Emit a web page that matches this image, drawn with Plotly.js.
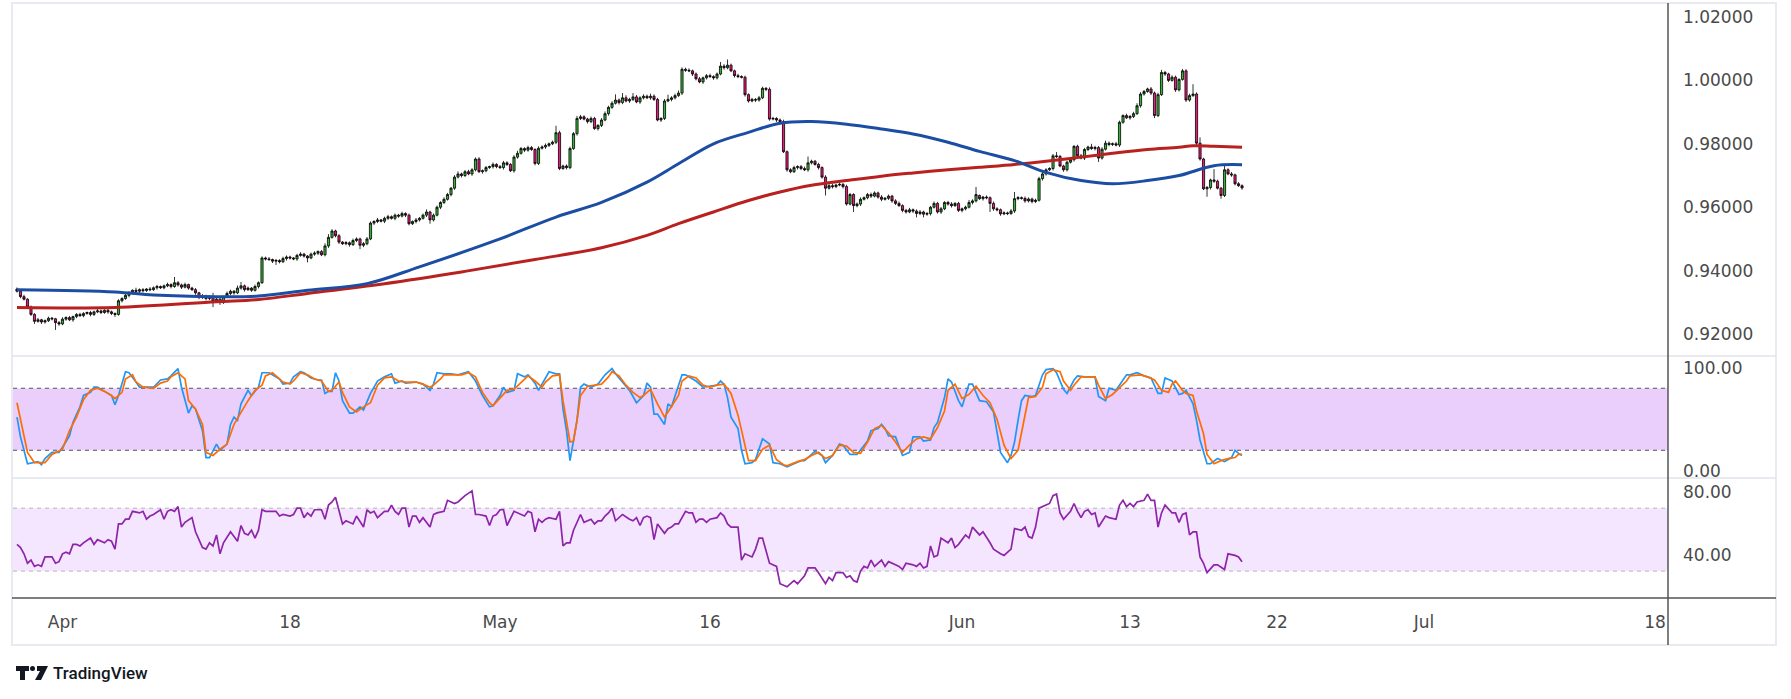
<!DOCTYPE html>
<html>
<head>
<meta charset="utf-8">
<script src="https://cdn.plot.ly/plotly-3.0.1.min.js"></script>
<style>
  html, body { margin: 0; padding: 0; background: #fff; }
  #chart { width: 1791px; height: 699px; }
</style>
</head>
<body>
<div id="chart"></div>
<script>
/* 4H candles with two moving averages, stochastic and RSI panes.
   Prices are kept in pips (price x 10000); x is the bar index. */

const closePips = [
  9335,9318,9310,9285,9262,9240,9245,9238,9242,9250,
  9248,9236,9232,9247,9252,9245,9255,9262,9258,9265,
  9268,9262,9270,9273,9268,9275,9270,9265,9262,9305,
  9312,9322,9330,9338,9335,9340,9337,9342,9340,9346,
  9350,9346,9352,9356,9350,9362,9355,9348,9356,9345,
  9340,9330,9315,9320,9312,9318,9303,9310,9300,9318,
  9328,9335,9330,9345,9352,9340,9345,9338,9350,9362,
  9440,9437,9435,9430,9432,9428,9438,9443,9440,9437,
  9448,9452,9446,9440,9452,9455,9460,9450,9478,9505,
  9525,9510,9490,9485,9488,9482,9495,9500,9480,9485,
  9500,9550,9555,9560,9556,9565,9570,9565,9575,9572,
  9580,9575,9548,9555,9560,9565,9575,9585,9560,9575,
  9600,9615,9625,9640,9660,9695,9705,9700,9712,9705,
  9718,9752,9712,9715,9725,9728,9735,9728,9725,9740,
  9735,9715,9758,9770,9785,9780,9788,9782,9738,9786,
  9790,9795,9800,9805,9835,9722,9730,9725,9785,9832,
  9880,9885,9878,9870,9880,9848,9858,9875,9895,9915,
  9928,9938,9930,9945,9935,9940,9948,9932,9945,9950,
  9945,9950,9940,9875,9880,9935,9940,9945,9952,9960,
  10035,10032,10030,10020,10005,9995,10008,10015,10012,10008,
  10020,10045,10040,10048,10030,10015,10012,10010,9955,9935,
  9940,9938,9945,9975,9972,9878,9880,9875,9870,9775,
  9718,9712,9725,9728,9722,9718,9740,9745,9735,9725,
  9695,9660,9668,9665,9670,9672,9665,9610,9640,9605,
  9610,9625,9630,9640,9635,9645,9632,9625,9628,9635,
  9620,9612,9605,9590,9585,9592,9588,9580,9585,9578,
  9580,9600,9612,9585,9595,9615,9610,9605,9612,9590,
  9595,9600,9615,9620,9640,9627,9632,9630,9612,9595,
  9592,9579,9582,9580,9588,9627,9630,9628,9620,9626,
  9618,9622,9690,9705,9718,9722,9762,9760,9730,9718,
  9742,9750,9792,9762,9755,9782,9790,9785,9788,9755,
  9783,9802,9798,9800,9796,9868,9889,9882,9886,9895,
  9920,9957,9965,9973,9960,9889,9955,10025,10020,10000,
  10010,9970,10003,10030,9938,9952,9957,9802,9752,9658,
  9662,9686,9682,9660,9637,9718,9705,9702,9674,9668,
  9661
];

const openPips = [
  9342,9335,9318,9310,9285,9262,9240,9245,9238,9242,
  9250,9248,9236,9232,9247,9252,9245,9255,9262,9258,
  9265,9268,9262,9270,9273,9268,9275,9270,9265,9262,
  9305,9312,9322,9330,9338,9335,9340,9337,9342,9340,
  9346,9350,9346,9352,9356,9350,9362,9355,9348,9356,
  9345,9340,9330,9315,9320,9312,9318,9303,9310,9300,
  9318,9328,9335,9330,9345,9352,9340,9345,9338,9350,
  9362,9440,9437,9435,9430,9432,9428,9438,9443,9440,
  9437,9448,9452,9446,9440,9452,9455,9460,9450,9478,
  9505,9525,9510,9490,9485,9488,9482,9495,9500,9480,
  9485,9500,9550,9555,9560,9556,9565,9570,9565,9575,
  9572,9580,9575,9548,9555,9560,9565,9575,9585,9560,
  9575,9600,9615,9625,9640,9660,9695,9705,9700,9712,
  9705,9718,9752,9712,9715,9725,9728,9735,9728,9725,
  9740,9735,9715,9758,9770,9785,9780,9788,9782,9738,
  9786,9790,9795,9800,9805,9835,9722,9730,9725,9785,
  9832,9880,9885,9878,9870,9880,9848,9858,9875,9895,
  9915,9928,9938,9930,9945,9935,9940,9948,9932,9945,
  9950,9945,9950,9940,9875,9880,9935,9940,9945,9952,
  9960,10035,10032,10030,10020,10005,9995,10008,10015,10012,
  10008,10020,10045,10040,10048,10030,10015,10012,10010,9955,
  9935,9940,9938,9945,9975,9972,9878,9880,9875,9870,
  9775,9718,9712,9725,9728,9722,9718,9740,9745,9735,
  9725,9695,9660,9668,9665,9670,9672,9665,9610,9640,
  9605,9610,9625,9630,9640,9635,9645,9632,9625,9628,
  9635,9620,9612,9605,9590,9585,9592,9588,9580,9585,
  9578,9580,9600,9612,9585,9595,9615,9610,9605,9612,
  9590,9595,9600,9615,9620,9637,9627,9632,9630,9612,
  9595,9592,9579,9582,9580,9588,9627,9630,9628,9620,
  9626,9618,9622,9690,9705,9718,9722,9762,9760,9730,
  9718,9742,9750,9792,9762,9755,9782,9790,9785,9788,
  9755,9783,9802,9798,9800,9796,9868,9889,9882,9886,
  9895,9920,9957,9965,9973,9960,9889,9955,10025,10020,
  10000,10010,9970,10003,10030,9938,9952,9957,9802,9752,
  9658,9662,9686,9682,9660,9637,9718,9705,9702,9674,
  9668
];

// wick length above / below the body, pips
const upperWick = [
  5,4,6,3,5,4,6,3,4,5, 4,3,5,6,4,5,3,4,5,4, 3,5,4,6,4,3,5,4,3,5,
  4,6,5,3,8,4,5,3,6,4, 5,3,4,6,4,18,5,4,6,3, 4,5,3,6,4,5,12,4,5,3,
  6,5,4,8,12,4,5,3,6,4, 5,4,6,3,5,4,6,5,4,3, 5,6,4,3,5,6,4,5,8,10,
  6,4,5,3,5,4,6,5,4,5, 6,5,4,6,3,5,6,4,5,4, 6,4,5,3,6,4,5,8,4,5,
  5,4,6,5,4,6,8,4,5,6, 5,5,6,4,5,3,6,4,5,6, 5,4,6,8,5,4,6,5,4,6,
  5,6,4,5,22,6,4,5,6,5, 8,6,5,4,6,5,4,6,7,5, 6,18,5,15,8,5,12,6,5,6,
  5,8,6,5,4,6,15,5,6,8, 6,5,6,4,5,6,4,5,6,4, 5,13,6,18,5,4,6,4,5,4,
  5,4,6,5,4,6,5,4,5,6, 4,5,6,4,5,6,20,5,4,5, 4,6,5,6,4,5,4,6,5,4,
  5,6,4,5,6,5,4,6,4,5, 4,5,6,4,5,6,4,5,6,4, 5,4,6,5,6,4,5,6,4,5,
  4,5,8,5,24,3,4,5,4,6, 5,4,5,4,6,21,5,4,6,5, 4,5,6,8,5,4,6,12,5,4,
  5,6,4,5,6,5,4,10,6,5, 6,8,5,4,6,5,4,6,5,6, 8,6,5,4,6,5,6,8,5,4,
  6,5,4,6,5,6,31,5,18,4, 5,4,34,5,4,19,5,6,4,5, 4
];
const lowerWick = [
  4,5,4,6,5,8,4,6,5,4, 5,23,6,4,5,4,6,5,4,5, 4,6,5,4,5,4,6,5,8,4,
  5,4,6,5,4,5,6,4,5,4, 6,4,5,4,6,4,5,6,4,5, 4,6,5,4,6,5,18,4,8,5,
  4,5,6,4,5,6,4,5,4,6, 4,5,4,6,12,5,4,6,5,4, 6,4,5,14,4,5,6,4,5,6,
  4,5,6,4,5,6,4,5,12,6, 5,4,6,5,4,6,5,4,6,5, 4,6,5,4,6,5,4,6,12,5,
  4,6,5,4,6,5,4,6,5,4, 6,5,4,6,5,4,6,5,4,6, 5,4,6,5,4,6,5,4,6,5,
  4,6,5,4,6,5,4,6,5,4, 6,5,4,6,5,4,6,5,4,6, 5,4,6,5,4,6,5,4,6,5,
  4,6,5,4,6,5,4,6,5,4, 6,5,4,6,5,4,6,5,4,6, 5,4,6,5,4,6,5,4,6,5,
  4,6,5,4,6,5,4,6,5,4, 6,5,4,6,5,4,6,5,4,6, 5,23,4,6,5,4,6,5,4,20,
  5,6,4,5,6,4,5,6,4,5, 6,5,4,6,5,4,6,12,5,10, 5,6,4,5,6,4,5,6,4,5,
  6,5,4,6,5,4,6,5,27,6, 5,6,4,5,4,6,5,4,6,5, 6,5,4,6,5,4,6,5,4,6,
  5,4,6,5,4,6,5,4,6,12, 5,4,6,5,4,6,5,4,6,5, 4,6,5,4,6,8,5,4,6,5,
  4,6,5,4,6,5,4,6,5,4, 25,6,5,4,10,5,4,6,5,4, 6
];

// moving averages, [bar, pips]
const maFast = [
  [0,9340],[28,9333],[39,9323],[57,9318],[69,9320],[83,9338],[100,9359],[115,9412],
  [137,9496],[154,9569],[167,9615],[180,9679],[189,9737],[199,9800],[209,9836],[218,9865],
  [227,9870],[237,9862],[247,9847],[256,9831],[266,9805],[275,9776],[285,9747],[294,9710],
  [304,9684],[313,9674],[323,9684],[332,9700],[342,9731],[350,9734]
];
const maSlow = [
  [0,9284],[28,9284],[57,9302],[69,9309],[83,9328],[105,9359],[127,9396],[148,9435],
  [167,9472],[180,9511],[189,9548],[199,9585],[209,9621],[218,9648],[227,9669],[237,9684],
  [247,9698],[256,9708],[266,9718],[275,9726],[285,9735],[294,9745],[304,9758],[313,9770],
  [323,9782],[332,9789],[336,9794],[342,9792],[350,9789]
];

// stochastic %K and %D, [bar, value]
const stochK = [
  [0,52],[1,33],[3,7],[5,8],[6,9],[7,6],[8,12],[10,18],[12,18],[13,23],[15,34],[16,47],[18,62],[19,73],
  [21,76],[22,81],[23,81],[25,77],[27,73],[28,64],[29,73],[31,96],[32,95],[34,86],[35,81],[37,81],[39,81],
  [41,88],[43,89],[44,92],[46,99],[47,81],[49,56],[50,63],[51,60],[53,39],[54,13],[55,13],[57,26],[58,20],
  [60,26],[61,45],[62,52],[63,49],[64,65],[66,78],[67,73],[69,81],[70,95],[72,95],[73,93],[75,89],[76,84],
  [78,85],[79,91],[81,96],[82,95],[84,90],[86,88],[87,88],[88,75],[89,77],[90,77],[91,95],[92,87],[93,68],
  [95,56],[96,56],[98,62],[99,59],[101,75],[103,87],[105,91],[107,94],[108,85],[110,87],[111,85],[114,86],
  [116,84],[118,78],[119,84],[120,95],[122,94],[124,94],[126,93],[128,95],[129,96],[131,87],[133,73],
  [135,62],[136,63],[138,73],[139,81],[140,76],[142,78],[143,94],[145,91],[146,93],[148,85],[149,78],
  [151,90],[152,96],[154,94],[155,94],[156,60],[157,39],[158,10],[159,29],[160,49],[161,81],[162,84],
  [164,81],[166,84],[168,93],[170,99],[171,94],[173,86],[175,78],[177,66],[179,73],[180,85],[181,81],
  [182,55],[183,55],[185,45],[186,65],[187,62],[189,84],[190,93],[191,93],[194,87],[196,81],[198,82],
  [200,83],[201,87],[202,84],[203,71],[204,52],[206,41],[207,20],[208,7],[210,8],[211,11],[213,31],
  [215,26],[216,8],[218,7],[220,4],[222,7],[224,10],[225,10],[227,16],[228,19],[230,15],[231,8],[233,15],
  [235,26],[236,25],[238,16],[240,16],[241,20],[243,29],[244,39],[246,41],[247,45],[248,41],[249,34],
  [251,33],[253,15],[255,18],[256,33],[258,33],[259,29],[261,30],[262,42],[263,47],[265,71],[266,89],
  [267,86],[269,68],[270,62],[272,84],[273,84],[275,68],[277,67],[279,57],[281,18],[282,13],[283,8],
  [284,15],[285,28],[286,49],[287,68],[288,73],[290,72],[291,73],[293,93],[294,98],[296,99],[297,95],
  [299,79],[300,75],[302,88],[303,92],[305,91],[308,91],[309,72],[311,68],[312,80],[314,78],[315,83],
  [317,93],[318,93],[320,95],[322,92],[324,90],[326,75],[327,75],[328,90],[330,87],[332,74],[333,75],
  [334,78],[336,65],[337,49],[338,30],[340,7],[341,7],[343,12],[345,9],[347,13],[348,20],[349,17],[350,15]
];
const stochD = [
  [0,66],[1,49],[3,18],[5,8],[8,8],[10,16],[13,21],[15,39],[17,52],[19,69],[21,78],[23,80],[25,77],
  [27,73],[28,70],[30,76],[31,89],[33,93],[34,86],[36,81],[39,80],[41,85],[43,87],[44,91],[46,95],
  [48,89],[49,68],[51,60],[53,45],[54,18],[56,15],[58,21],[60,26],[62,45],[64,57],[66,68],[68,78],
  [70,83],[71,92],[73,95],[74,92],[76,86],[78,84],[79,87],[81,95],[83,93],[85,89],[87,87],[89,77],
  [90,78],[92,86],[93,76],[95,62],[97,57],[99,62],[101,66],[103,83],[105,90],[107,91],[109,87],[111,86],
  [114,86],[116,84],[118,81],[119,83],[121,89],[122,93],[125,93],[127,93],[129,95],[131,91],[133,76],
  [135,66],[136,63],[138,70],[140,78],[142,79],[144,86],[146,92],[148,87],[150,81],[151,86],[153,92],
  [155,93],[156,68],[158,28],[159,29],[160,49],[161,73],[163,82],[165,83],[167,84],[169,91],[170,96],
  [172,92],[174,83],[176,76],[178,71],[179,73],[181,79],[183,65],[185,52],[186,57],[189,73],[190,87],
  [192,92],[194,90],[196,83],[198,81],[200,83],[202,84],[204,75],[206,54],[208,26],[209,10],[211,10],
  [213,21],[215,25],[217,11],[219,6],[220,5],[223,9],[225,11],[227,15],[229,18],[231,12],[233,15],
  [235,25],[237,24],[239,18],[241,17],[243,28],[245,41],[247,44],[249,37],[251,28],[253,18],[255,25],
  [257,31],[259,33],[261,31],[263,42],[265,58],[266,78],[268,84],[270,70],[272,74],[274,82],[276,73],
  [278,66],[280,50],[282,25],[284,12],[286,20],[288,54],[289,71],[291,72],[293,81],[294,94],[296,98],
  [298,96],[299,87],[301,78],[302,83],[304,91],[307,91],[308,91],[309,83],[311,70],[313,74],[315,81],
  [317,87],[318,92],[321,93],[323,91],[325,88],[327,78],[329,76],[330,84],[331,87],[333,78],[334,75],
  [336,73],[337,58],[339,36],[340,16],[342,7],[344,10],[346,12],[348,13],[349,16],[350,16]
];

// RSI, [bar, value]
const rsi = [
  [0,47],[1,45],[2,41],[3,35],[4,37],[5,33],[6,34],[7,33],[8,39],[10,39],[11,35],[12,36],[13,41],[14,42],
  [15,41],[16,47],[17,47],[18,46],[19,48],[21,51],[22,47],[23,50],[25,48],[26,50],[27,49],[28,44],[29,60],
  [30,60],[31,63],[32,63],[33,68],[35,67],[36,68],[37,63],[38,65],[39,66],[41,69],[42,63],[43,68],[44,69],
  [45,68],[46,71],[47,58],[48,61],[50,64],[51,55],[53,45],[54,44],[55,48],[56,46],[57,53],[58,41],[59,48],
  [61,55],[62,52],[63,49],[64,59],[65,54],[66,53],[67,56],[68,51],[69,56],[70,69],[71,68],[73,68],[74,68],
  [75,65],[76,66],[78,65],[79,66],[80,70],[81,70],[82,64],[83,67],[84,65],[85,69],[87,69],[88,63],[89,72],
  [90,74],[91,77],[92,69],[93,60],[94,62],[95,61],[96,60],[97,65],[99,58],[100,69],[101,67],[102,68],
  [103,64],[105,68],[106,68],[107,72],[108,68],[109,66],[110,70],[111,70],[112,58],[113,65],[114,65],
  [115,61],[116,64],[118,58],[119,66],[120,67],[122,68],[123,75],[125,73],[126,74],[127,76],[128,78],
  [130,81],[131,66],[132,66],[134,65],[135,59],[136,65],[137,66],[138,69],[139,69],[140,59],[142,68],
  [143,67],[145,65],[146,68],[147,67],[148,55],[149,63],[150,61],[151,63],[152,64],[154,63],[155,68],
  [156,46],[157,48],[158,48],[159,56],[160,61],[161,66],[162,61],[163,62],[164,63],[165,60],[166,62],
  [167,62],[168,65],[169,67],[170,70],[171,62],[173,66],[175,63],[176,62],[177,64],[178,59],[179,64],
  [180,65],[181,64],[182,50],[183,60],[185,54],[186,57],[187,58],[188,60],[189,60],[191,68],[192,67],
  [193,67],[194,61],[195,63],[196,63],[197,61],[198,63],[200,64],[201,67],[202,65],[203,60],[204,58],
  [206,58],[207,37],[208,41],[210,39],[211,44],[212,51],[213,51],[215,35],[216,34],[217,33],[218,22],
  [220,20],[221,22],[222,24],[223,22],[225,27],[226,32],[228,32],[229,29],[231,22],[232,26],[233,24],
  [234,29],[236,29],[237,26],[238,27],[239,24],[240,23],[241,30],[242,33],[243,32],[244,37],[245,33],
  [246,35],[247,37],[248,33],[249,36],[251,34],[252,33],[253,31],[254,35],[256,34],[257,33],[258,35],
  [259,32],[260,33],[261,46],[262,39],[263,40],[264,51],[266,48],[267,51],[268,45],[269,47],[271,53],
  [272,51],[273,58],[275,53],[276,55],[278,48],[279,44],[281,41],[282,40],[284,44],[285,57],[287,56],
  [288,58],[289,52],[290,51],[291,58],[292,70],[294,72],[295,73],[296,78],[297,79],[298,67],[299,63],
  [301,68],[302,73],[303,68],[304,64],[305,68],[306,69],[307,66],[308,67],[309,58],[311,65],[312,64],
  [314,63],[315,72],[316,75],[317,71],[318,73],[319,71],[320,74],[322,75],[323,79],[324,75],[325,75],
  [326,58],[327,67],[328,72],[330,67],[331,67],[332,61],[333,66],[334,67],[335,53],[336,55],[337,55],
  [338,39],[339,35],[340,29],[342,34],[343,34],[345,31],[346,41],[348,40],[349,39],[350,36]
];

const dateTickBars = [13, 78, 138, 198, 270, 318, 360, 402, 468];
const dateTickText = ["Apr", "18", "May", "16", "Jun", "13", "22", "Jul", "18"];
const priceTicks = [0.92, 0.94, 0.96, 0.98, 1.00, 1.02];
const stochTicks = [0, 100];
const rsiTicks = [40, 80];

// ---- geometry helpers (page pixels -> paper fractions) ----
const W = 1791, H = 699;
const M = { l: 13, r: 123, t: 4, b: 101 };
const PW = W - M.l - M.r, PH = H - M.t - M.b;
const px = (p) => (p - M.l) / PW;
const py = (p) => (H - M.b - p) / PH;

const FONT = { family: "DejaVu Sans", size: 17, color: "#4a4a4a" };
const pip = (v) => v / 10000;
const bars = closePips.map((_, i) => i);

const open = openPips.map(pip);
const close = closePips.map(pip);
const high = closePips.map((c, i) => pip(Math.max(c, openPips[i]) + upperWick[i]));
const low = closePips.map((c, i) => pip(Math.min(c, openPips[i]) - lowerWick[i]));

function line(points, axis, color, width, scale, shape) {
  return {
    type: "scatter", mode: "lines",
    x: points.map((p) => p[0]),
    y: points.map((p) => scale ? scale(p[1]) : p[1]),
    xaxis: "x", yaxis: axis,
    line: { color, width, shape: shape || "linear" },
    hoverinfo: "skip", showlegend: false,
  };
}

const traces = [
  {
    type: "candlestick", x: bars, open, high, low, close,
    xaxis: "x", yaxis: "y",
    increasing: { line: { color: "#000", width: 0.8 }, fillcolor: "#36b336" },
    decreasing: { line: { color: "#000", width: 0.8 }, fillcolor: "#ec1a7c" },
    whiskerwidth: 0, hoverinfo: "skip", showlegend: false,
  },
  line(maSlow, "y", "#b8211f", 3, pip, "spline"),
  line(maFast, "y", "#1b4ea3", 3, pip, "spline"),
  line(stochK, "y2", "#2196f3", 1.7),
  line(stochD, "y2", "#ff6d00", 1.7),
  line(rsi, "y3", "#8e24aa", 1.7),
];

const yBase = {
  side: "right", anchor: "x", showgrid: false, zeroline: false, showline: false,
  ticks: "", tickfont: FONT, ticklabelstandoff: 14, fixedrange: true,
};

const hline = (x0, x1, y, color, width) => ({
  type: "line", xref: "paper", yref: "paper",
  x0: px(x0), x1: px(x1), y0: py(y), y1: py(y),
  line: { color, width },
});

const band = (yref, lo, hi, fill, dash) => [
  { type: "rect", xref: "paper", yref, x0: 0, x1: 1, y0: lo, y1: hi,
    fillcolor: fill, line: { width: 0 }, layer: "below" },
  { type: "line", xref: "paper", yref, x0: 0, x1: 1, y0: lo, y1: lo,
    line: { color: dash, width: 1, dash: "4px,4px" }, layer: "below" },
  { type: "line", xref: "paper", yref, x0: 0, x1: 1, y0: hi, y1: hi,
    line: { color: dash, width: 1, dash: "4px,4px" }, layer: "below" },
];

const path = (pts) => "M" + pts.map((p) => px(p[0]) + "," + py(p[1])).join("L") + "Z";
const logoColor = "#131722";

const shapes = [
  ...band("y2", 20, 80, "#eacefc", "#555"),
  ...band("y3", 30, 70, "#f4e6fe", "#b4b4bc"),
  // outer frame
  { type: "rect", xref: "paper", yref: "paper", x0: px(12), x1: px(1776), y0: py(645), y1: py(3),
    line: { color: "#e8eaf0", width: 2 } },
  hline(12, 1776, 356, "#e0e3eb", 1.5),
  hline(12, 1776, 478, "#e0e3eb", 1.5),
  hline(12, 1776, 598, "#555", 1.5),
  { type: "line", xref: "paper", yref: "paper", x0: px(1668), x1: px(1668), y0: py(645), y1: py(3),
    line: { color: "#555", width: 1.5 } },
  // TradingView mark
  { type: "path", xref: "paper", yref: "paper", fillcolor: logoColor, line: { width: 0 },
    path: path([[16, 666], [29, 666], [29, 671], [25, 671], [25, 680], [20, 680], [20, 671], [16, 671]]) },
  { type: "circle", xref: "paper", yref: "paper", fillcolor: logoColor, line: { width: 0 },
    x0: px(30), x1: px(35), y0: py(671), y1: py(666) },
  { type: "path", xref: "paper", yref: "paper", fillcolor: logoColor, line: { width: 0 },
    path: path([[37, 666], [48, 666], [41, 680], [35, 680], [40, 671], [37, 671]]) },
];

const layout = {
  width: W, height: H, margin: M,
  paper_bgcolor: "#fff", plot_bgcolor: "#fff",
  showlegend: false, hovermode: false, dragmode: false,
  boxgap: 0.12,
  xaxis: {
    domain: [0, 1], anchor: "y3", range: [-1.14, 471.7],
    tickvals: dateTickBars, ticktext: dateTickText, tickfont: FONT,
    ticks: "", ticklabelstandoff: 12, showgrid: false, zeroline: false, showline: false,
    rangeslider: { visible: false }, fixedrange: true,
  },
  yaxis: Object.assign({}, yBase, {
    domain: [py(356), 1], range: [0.91308, 1.02409],
    tickvals: priceTicks, tickformat: ".5f",
  }),
  yaxis2: Object.assign({}, yBase, {
    domain: [py(478), py(356)], range: [-6.8, 111.2],
    tickvals: stochTicks, tickformat: ".2f",
  }),
  yaxis3: Object.assign({}, yBase, {
    domain: [0, py(478)], range: [12.9, 89.2],
    tickvals: rsiTicks, tickformat: ".2f",
  }),
  shapes,
  annotations: [{
    text: "TradingView", xref: "paper", yref: "paper", x: px(51), y: py(673),
    xanchor: "left", yanchor: "middle", showarrow: false,
    font: { family: "Roboto", size: 17, color: logoColor, weight: 500 },
  }],
};

Plotly.newPlot("chart", traces, layout, { staticPlot: true, displayModeBar: false });
</script>
</body>
</html>
